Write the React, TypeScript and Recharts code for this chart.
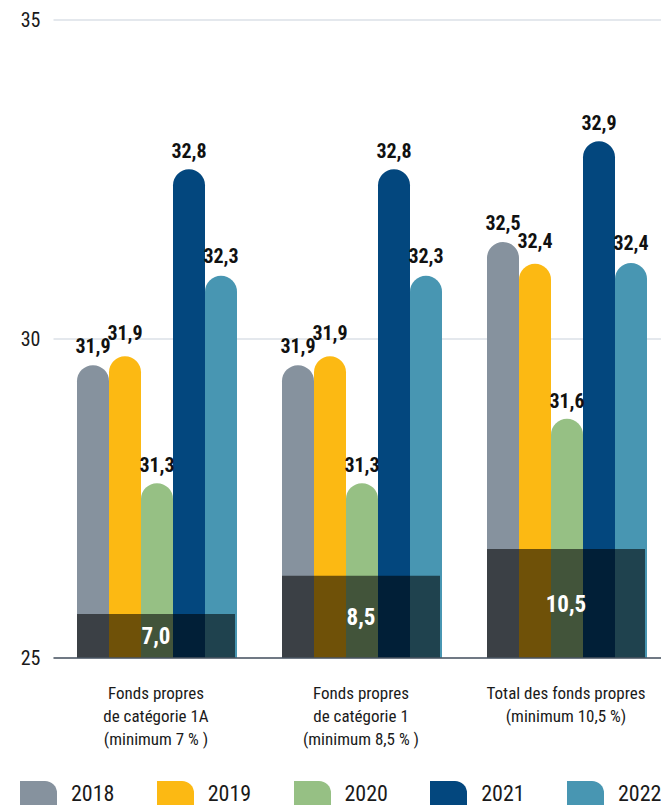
import React from "react";
import { BarChart, Bar, XAxis, YAxis, CartesianGrid, Legend, LabelList } from "recharts";

const categories = ["cat1a", "cat1", "total"];
const categoryLines = [
  ["Fonds propres", "de catégorie 1A", "(minimum 7 % )"],
  ["Fonds propres", "de catégorie 1", "(minimum 8,5 % )"],
  ["Total des fonds propres", "(minimum 10,5 %)"],
];

const years = ["2018", "2019", "2020", "2021", "2022"];
const colors = ["#86929e", "#fcb913", "#96c084", "#03477e", "#4896b2"];

// bar heights as drawn on the axis (the printed labels sit on top)
const barTops = [
  [29.59, 29.59, 31.52],
  [29.73, 29.73, 31.18],
  [27.74, 27.74, 28.75],
  [32.66, 32.66, 33.1],
  [30.99, 30.99, 31.19],
];
const valueLabels = [
  ["31,9", "31,9", "32,5"],
  ["31,9", "31,9", "32,4"],
  ["31,3", "31,3", "31,6"],
  ["32,8", "32,8", "32,9"],
  ["32,3", "32,3", "32,4"],
];
const labelOffsets = [12, 16, 11, 11, 13];

const minTops = [25.69, 26.29, 26.71];
const minLabels = ["7,0", "8,5", "10,5"];

const yTicks = [25, 30, 35];

const data = categories.map((c, i) => {
  const row: Record<string, string | number> = { cat: c, min: minTops[i], minLabel: minLabels[i] };
  years.forEach((y, j) => {
    row["v" + y] = barTops[j][i];
    row["l" + y] = valueLabels[j][i];
  });
  return row;
});

const FONT = "'Liberation Sans Narrow', 'Roboto Condensed', 'DejaVu Sans Condensed', 'Arial Narrow', sans-serif";

const CategoryTick = (props: any) => {
  const { x, y, payload } = props;
  const lines = categoryLines[payload.index] || [];
  return (
    <g>
      {lines.map((line, k) => (
        <text key={k} x={x} y={y + 41 + k * 23} textAnchor="middle" fontSize={17} fill="#1a1a1a">
          {line}
        </text>
      ))}
    </g>
  );
};

const LegendContent = () => (
  <div style={{ height: 43, display: "flex", paddingLeft: 20 }}>
    {years.map((y, j) => (
      <div key={y} style={{ width: 136.75, display: "flex", alignItems: "flex-start" }}>
        <div style={{ width: 37, height: 37, background: colors[j], borderRadius: "0 12px 12px 0" }} />
        <span style={{ marginLeft: 14, marginTop: 2, fontSize: 22, lineHeight: "22px", color: "#1a1a1a" }}>{y}</span>
      </div>
    ))}
  </div>
);

export default function App() {
  return (
    <div
      style={{
        position: "absolute",
        left: 0,
        top: 0,
        width: 661,
        height: 805,
        overflow: "hidden",
        background: "#fff",
        fontFamily: FONT,
      }}
    >
      <BarChart
        width={720}
        height={824}
        data={data}
        margin={{ top: 20, right: 51.5, left: 0, bottom: 0 }}
        barCategoryGap={23.5}
        barGap={0}
      >
        <CartesianGrid vertical={false} stroke="#c9d1db" />
        <XAxis
          dataKey="cat"
          height={123}
          tickLine={false}
          tickSize={0}
          tickMargin={0}
          axisLine={{ stroke: "#4a5561", strokeWidth: 1.5 }}
          tick={<CategoryTick />}
          interval={0}
        />
        <XAxis xAxisId="ov" dataKey="cat" hide />
        <YAxis
          domain={[25, 35]}
          ticks={yTicks}
          width={53.5}
          tickLine={false}
          axisLine={false}
          tickSize={0}
          tickMargin={13}
          tick={{ fontSize: 20, fill: "#1a1a1a" }}
        />
        {years.map((y, j) => (
          <Bar key={y} dataKey={"v" + y} fill={colors[j]} radius={[16, 16, 0, 0]} isAnimationActive={false}>
            <LabelList
              dataKey={"l" + y}
              position="top"
              offset={labelOffsets[j]}
              style={{ fontSize: 20, fontWeight: 700, fill: "#111" }}
            />
          </Bar>
        ))}
        <Bar xAxisId="ov" dataKey="min" fill="#000" fillOpacity={0.56} isAnimationActive={false}>
          <LabelList
            dataKey="minLabel"
            position="center"
            style={{ fontSize: 23, fontWeight: 700, fill: "#fff" }}
          />
        </Bar>
        <Legend verticalAlign="bottom" align="left" wrapperStyle={{ left: 0, width: 720 }} content={<LegendContent />} />
      </BarChart>
    </div>
  );
}
